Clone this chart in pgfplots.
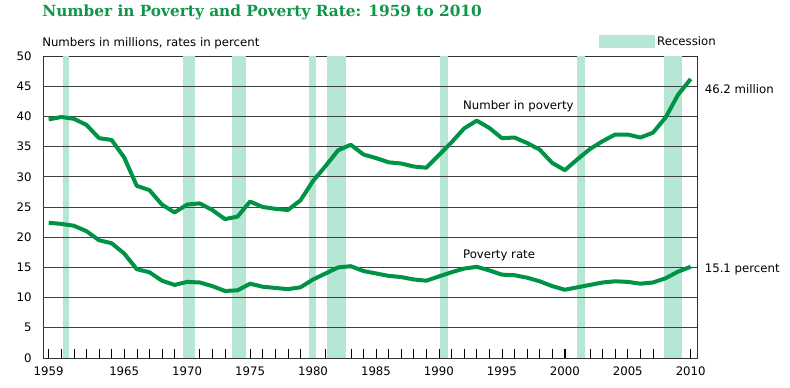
\documentclass[border=0pt]{standalone}
\usepackage{pgfplots}
\pgfplotsset{compat=1.18}
\usepackage{fontspec}
\setmainfont{DejaVu Sans}
\newfontfamily\titlefont{DejaVu Serif}
\definecolor{povgreen}{RGB}{0,146,69}
\definecolor{titlegreen}{RGB}{16,150,72}
\definecolor{mint}{RGB}{181,231,212}
\begin{document}
\begin{tikzpicture}
\path[use as bounding box] (0pt,0pt) rectangle (592.5pt,291pt);
\node[anchor=base west, inner sep=0, font=\titlefont\bfseries\fontsize{11.5}{13}\selectfont, text=titlegreen] at (31.5pt,278.25pt) {Number in Poverty and Poverty Rate: 1959 to 2010};
\node[anchor=base west, inner sep=0, font=\fontsize{8.8}{10}\selectfont] at (31.5pt,255.75pt) {Numbers in millions, rates in percent};
\begin{axis}[
  at={(32.25pt,22.5pt)}, anchor=south west,
  scale only axis, width=490.5pt, height=226.5pt,
  xmin=1958.55, xmax=2010.5, ymin=0, ymax=50,
  ytick={0,5,...,50},
  xtick={1959,1965,1970,1975,1980,1985,1990,1995,2000,2005,2010},
  minor xtick={1959,...,2010},
  tick align=inside, xtick pos=bottom,
  major tick length=7pt, minor tick length=7pt,
  every tick/.style={black, line width=0.4pt},
  ytick style={draw=none},
  axis line style={black!80, line width=0.7pt},
  tick label style={font=\fontsize{8.8}{10}\selectfont},
  yticklabel style={xshift=-5pt},
  xticklabel style={yshift=-3pt},
  x tick label style={/pgf/number format/1000 sep={}},
  /pgf/number format/assume math mode=true,
  clip=false,
  legend style={at={(0.849,1.018)}, anchor=south west, draw=none, fill=none, inner sep=0pt, font=\fontsize{8.8}{10}\selectfont, /tikz/every even column/.append style={column sep=5pt}},
  legend image code/.code={\fill[mint] (0pt,-4pt) rectangle (42pt,5.5pt);},
]
\addplot[fill=mint, draw=none] coordinates {(1960.1,0)(1960.1,50)(1960.65,50)(1960.65,0)} --cycle;
\addlegendentry{Recession}
\addplot[fill=mint, draw=none, forget plot] coordinates {(1969.7,0)(1969.7,50)(1970.6,50)(1970.6,0)} --cycle;
\addplot[fill=mint, draw=none, forget plot] coordinates {(1973.6,0)(1973.6,50)(1974.65,50)(1974.65,0)} --cycle;
\addplot[fill=mint, draw=none, forget plot] coordinates {(1979.7,0)(1979.7,50)(1980.2,50)(1980.2,0)} --cycle;
\addplot[fill=mint, draw=none, forget plot] coordinates {(1981.1,0)(1981.1,50)(1982.6,50)(1982.6,0)} --cycle;
\addplot[fill=mint, draw=none, forget plot] coordinates {(1990.05,0)(1990.05,50)(1990.7,50)(1990.7,0)} --cycle;
\addplot[fill=mint, draw=none, forget plot] coordinates {(2000.95,0)(2000.95,50)(2001.6,50)(2001.6,0)} --cycle;
\addplot[fill=mint, draw=none, forget plot] coordinates {(2007.85,0)(2007.85,50)(2009.3,50)(2009.3,0)} --cycle;
% grid lines
\foreach \g in {5,10,...,45} {
  \addplot[black!75, line width=0.6pt, forget plot] coordinates {(1958.55,\g)(2010.5,\g)};
}
% Number in poverty
\addplot[povgreen, line width=3pt, line join=round, forget plot] coordinates {
(1959,39.5)(1960,39.9)(1961,39.6)(1962,38.6)(1963,36.4)(1964,36.1)(1965,33.2)(1966,28.5)(1967,27.8)(1968,25.4)
(1969,24.1)(1970,25.4)(1971,25.6)(1972,24.5)(1973,23.0)(1974,23.4)(1975,25.9)(1976,25.0)(1977,24.7)(1978,24.5)
(1979,26.1)(1980,29.3)(1981,31.8)(1982,34.4)(1983,35.3)(1984,33.7)(1985,33.1)(1986,32.4)(1987,32.2)(1988,31.7)
(1989,31.5)(1990,33.6)(1991,35.7)(1992,38.0)(1993,39.3)(1994,38.1)(1995,36.4)(1996,36.5)(1997,35.6)(1998,34.5)
(1999,32.3)(2000,31.1)(2001,32.9)(2002,34.6)(2003,35.9)(2004,37.0)(2005,37.0)(2006,36.5)(2007,37.3)(2008,39.8)
(2009,43.6)(2010,46.2)};
% Poverty rate
\addplot[povgreen, line width=3pt, line join=round, forget plot] coordinates {
(1959,22.4)(1960,22.2)(1961,21.9)(1962,21.0)(1963,19.5)(1964,19.0)(1965,17.3)(1966,14.7)(1967,14.2)(1968,12.8)
(1969,12.1)(1970,12.6)(1971,12.5)(1972,11.9)(1973,11.1)(1974,11.2)(1975,12.3)(1976,11.8)(1977,11.6)(1978,11.4)
(1979,11.7)(1980,13.0)(1981,14.0)(1982,15.0)(1983,15.2)(1984,14.4)(1985,14.0)(1986,13.6)(1987,13.4)(1988,13.0)
(1989,12.8)(1990,13.5)(1991,14.2)(1992,14.8)(1993,15.1)(1994,14.5)(1995,13.8)(1996,13.7)(1997,13.3)(1998,12.7)
(1999,11.9)(2000,11.3)(2001,11.7)(2002,12.1)(2003,12.5)(2004,12.7)(2005,12.6)(2006,12.3)(2007,12.5)(2008,13.2)
(2009,14.3)(2010,15.1)};
\node[anchor=west, inner sep=0, font=\fontsize{8.8}{10}\selectfont] at (axis cs:1991.9,41.7) {Number in poverty};
\node[anchor=west, inner sep=0, font=\fontsize{8.8}{10}\selectfont] at (axis cs:1991.9,17.05) {Poverty rate};
\node[anchor=west, inner sep=0, font=\fontsize{8.8}{10}\selectfont] at (axis cs:2011.1,44.5) {46.2 million};
\node[anchor=west, inner sep=0, font=\fontsize{8.8}{10}\selectfont] at (axis cs:2011.1,14.6) {15.1 percent};
\end{axis}
\end{tikzpicture}
\end{document}
